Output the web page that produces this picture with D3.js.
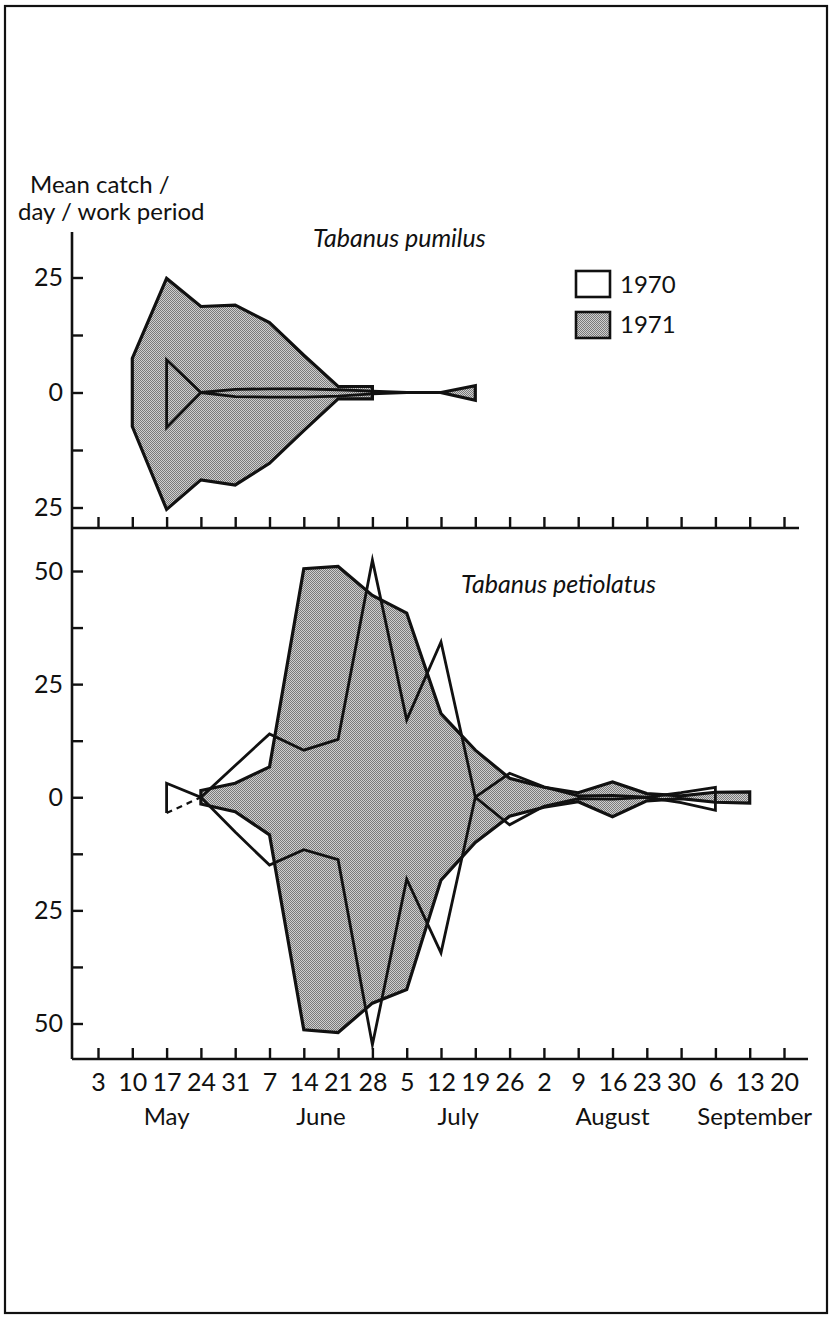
<!DOCTYPE html>
<html>
<head>
<meta charset="utf-8">
<script src="https://cdn.jsdelivr.net/npm/d3@7"></script>
<style>
  body { margin: 0; background: #fff; }
  svg { display: block; }
  text { font-family: Lato, "Open Sans", sans-serif; fill: #111; }
</style>
</head>
<body>
<svg id="chart" width="833" height="1323"></svg>
<script>
// Sampling weeks (week-ending dates), May to September
const weekMonths = ["May","May","May","May","May","June","June","June","June",
  "July","July","July","July","August","August","August","August","August",
  "September","September","September"];
const weekDays = [3,10,17,24,31,7,14,21,28,5,12,19,26,2,9,16,23,30,6,13,20];
const monthNames = ["May","June","July","August","September"];

// Mean catch per day per work period; upper and lower half-widths of each kite.
// null = no catch recorded that week.
const pumilus1970Upper = [null,null,7.1,0,0.7,0.8,0.8,0.6,0.3,0,0,null,null,null,null,null,null,null,null,null,null];
const pumilus1970Lower = [null,null,7.6,0,0.9,1.0,1.0,0.8,0.3,0,0,null,null,null,null,null,null,null,null,null,null];
const pumilus1971Upper = [null,7.4,24.8,18.7,19.0,15.2,8.1,1.3,1.3,null,0,1.5,null,null,null,null,null,null,null,null,null];
const pumilus1971Lower = [null,7.4,25.4,19.0,20.1,15.4,8.3,1.4,1.4,null,0,1.7,null,null,null,null,null,null,null,null,null];

const petiolatus1970Upper = [null,null,3.1,0,7.0,14.0,10.4,12.8,52.4,17.1,34.3,0,5.3,2.3,0.3,0.4,0,1.0,2.2,null,null];
const petiolatus1970Lower = [null,null,3.5,0,7.7,15.0,11.6,13.8,54.7,18.1,34.4,0,6.1,2.0,0.3,0.4,0,1.2,2.9,null,null];
const petiolatus1971Upper = [null,null,null,1.5,3.1,6.7,50.5,51.0,44.6,40.7,18.5,10.4,4.2,2.2,1.0,3.4,0.8,0.3,1.1,1.2,null];
const petiolatus1971Lower = [null,null,null,1.5,3.2,8.3,51.4,52.0,45.5,42.5,18.3,10.0,4.2,2.2,1.0,4.3,0.8,0.3,1.1,1.3,null];

// Lower edge segments (starting week) drawn as a dashed line
const petiolatus1970DashedLower = ["May 17"];

const yearLabels = ["1970","1971"];
const pumilusMajorTicks = [-25, 0, 25];
const pumilusMinorTicks = [-12.5, 12.5];
const petiolatusMajorTicks = [-50, -25, 0, 25, 50];
const petiolatusMinorTicks = [-37.5, -12.5, 12.5, 37.5];

const weeks = weekDays.map((d, i) => weekMonths[i] + " " + d);

const svg = d3.select("#chart");
const ink = "#111";

// Stipple fill for 1971: fine low-contrast dot screen
const defs = svg.append("defs");
const pat = defs.append("pattern")
  .attr("id", "stipple").attr("x", 0).attr("y", 0).attr("width", 2).attr("height", 2)
  .attr("patternUnits", "userSpaceOnUse");
pat.append("rect").attr("width", 2).attr("height", 2).attr("fill", "#cfcfcf");
pat.append("rect").attr("x", 0).attr("y", 0).attr("width", 1).attr("height", 1)
  .attr("fill", "#7a7a7a").attr("shape-rendering", "crispEdges");
pat.append("rect").attr("x", 1).attr("y", 1).attr("width", 1).attr("height", 1)
  .attr("fill", "#7a7a7a").attr("shape-rendering", "crispEdges");

// Page frame
svg.append("rect").attr("x", 5).attr("y", 6).attr("width", 822).attr("height", 1307)
  .attr("fill", "none").attr("stroke", ink).attr("stroke-width", 2.2);

// Scales
const x = d3.scalePoint().domain(weeks).range([98, 784]);
const yTop = d3.scaleLinear().domain([-25, 25]).range([507.5, 277.5]);
const yBot = d3.scaleLinear().domain([-50, 50]).range([1023.5, 571]);

const axisX0 = 72;
const topAxisY = 528, botAxisY = 1059;

// Kite drawing: each run of recorded weeks becomes one closed shape
function drawKite(g, y, upper, lower, opts) {
  const runs = [];
  let cur = null;
  upper.forEach((v, i) => {
    if (v !== null && lower[i] !== null) {
      if (!cur) { cur = []; runs.push(cur); }
      cur.push(i);
    } else cur = null;
  });
  const dashed = new Set((opts.dashedLower || []).map(w => weeks.indexOf(w)));
  runs.forEach(run => {
    const up = run.map(i => [x(weeks[i]), y(upper[i])]);
    const lo = run.map(i => [x(weeks[i]), y(-lower[i])]);
    const ring = up.concat(lo.slice().reverse());
    g.append("path")
      .attr("d", d3.line()(ring) + "Z")
      .attr("fill", opts.fill).attr("stroke", "none");
    // find a dashed lower segment within this run
    let k = -1;
    run.forEach((i, j) => { if (j < run.length - 1 && dashed.has(i)) k = j; });
    const outline = g.append("path")
      .attr("fill", "none").attr("stroke", ink)
      .attr("stroke-width", opts.width)
      .attr("stroke-linejoin", "miter").attr("stroke-miterlimit", 10);
    if (k < 0) {
      outline.attr("d", d3.line()(ring) + "Z");
    } else {
      // open the ring at the dashed edge (lo[k+1] -> lo[k])
      const n = up.length;
      const startIdx = 2 * n - 1 - k;       // position of lo[k] in ring
      const rot = ring.slice(startIdx).concat(ring.slice(0, startIdx));
      outline.attr("d", d3.line()(rot));
      g.append("line")
        .attr("x1", lo[k][0]).attr("y1", lo[k][1])
        .attr("x2", lo[k + 1][0]).attr("y2", lo[k + 1][1])
        .attr("stroke", ink).attr("stroke-width", opts.width * 0.8)
        .attr("stroke-dasharray", "6,5");
    }
  });
}

// ---------- Upper panel: Tabanus pumilus ----------
const gTop = svg.append("g");
drawKite(gTop, yTop, pumilus1971Upper, pumilus1971Lower, { fill: "url(#stipple)", width: 3.2 });
drawKite(gTop, yTop, pumilus1970Upper, pumilus1970Lower, { fill: "none", width: 2.8 });

// ---------- Lower panel: Tabanus petiolatus ----------
const gBot = svg.append("g");
drawKite(gBot, yBot, petiolatus1971Upper, petiolatus1971Lower, { fill: "url(#stipple)", width: 3.2 });
drawKite(gBot, yBot, petiolatus1970Upper, petiolatus1970Lower,
  { fill: "none", width: 2.8, dashedLower: petiolatus1970DashedLower });

// ---------- Axes ----------
function styleAxis(sel) {
  sel.select(".domain").remove();
  sel.selectAll(".tick line").attr("stroke", ink).attr("stroke-width", 2.4);
  sel.selectAll(".tick text").attr("fill", ink);
}

function yAxis(scale, major, minor) {
  svg.append("g").attr("transform", `translate(${axisX0},0)`)
    .call(d3.axisLeft(scale).tickValues(major).tickSizeInner(-11).tickSizeOuter(0)
      .tickPadding(9).tickFormat(d => Math.abs(d)))
    .call(styleAxis)
    .call(s => s.selectAll(".tick text").style("font-size", "25px")
      .style("font-family", "Lato, sans-serif"));
  svg.append("g").attr("transform", `translate(${axisX0},0)`)
    .call(d3.axisLeft(scale).tickValues(minor).tickSizeInner(-11).tickSizeOuter(0)
      .tickFormat(""))
    .call(styleAxis);
}
yAxis(yTop, pumilusMajorTicks, pumilusMinorTicks);
yAxis(yBot, petiolatusMajorTicks, petiolatusMinorTicks);

// vertical axis line shared by both panels
svg.append("line").attr("x1", axisX0).attr("x2", axisX0).attr("y1", 232).attr("y2", botAxisY)
  .attr("stroke", ink).attr("stroke-width", 2.6);

// upper panel time axis (ticks only)
svg.append("g").attr("transform", `translate(0,${topAxisY})`)
  .call(d3.axisBottom(x).tickSizeInner(-11).tickSizeOuter(0).tickFormat(""))
  .call(styleAxis);
svg.append("line").attr("x1", axisX0).attr("x2", 799).attr("y1", topAxisY).attr("y2", topAxisY)
  .attr("stroke", ink).attr("stroke-width", 2.6);

// lower panel time axis with day labels
svg.append("g").attr("transform", `translate(0,${botAxisY})`)
  .call(d3.axisBottom(x).tickSizeInner(-11).tickSizeOuter(0).tickPadding(14)
    .tickFormat((d, i) => weekDays[i]))
  .call(styleAxis)
  .call(s => s.selectAll(".tick text").style("font-size", "25px")
    .style("font-family", "Lato, sans-serif"));
svg.append("line").attr("x1", axisX0).attr("x2", 808).attr("y1", botAxisY).attr("y2", botAxisY)
  .attr("stroke", ink).attr("stroke-width", 2.6);

// month names centred under their weeks
monthNames.forEach(m => {
  const xs = weeks.filter((w, i) => weekMonths[i] === m).map(w => x(w));
  svg.append("text").attr("x", d3.mean(xs) + (m === "September" ? 5 : 0)).attr("y", 1125)
    .attr("text-anchor", "middle").style("font-size", "24px").text(m);
});

// ---------- Titles and labels ----------
svg.append("text").attr("x", 30).attr("y", 193).style("font-size", "24px").text("Mean catch /");
svg.append("text").attr("x", 18).attr("y", 220).style("font-size", "24px").text("day / work period");

svg.append("text").attr("x", 313).attr("y", 247).style("font-size", "25px")
  .style("font-style", "italic").text("Tabanus pumilus");
svg.append("text").attr("x", 461).attr("y", 593).style("font-size", "25px")
  .style("font-style", "italic").text("Tabanus petiolatus");

// Legend
const legend = svg.append("g");
yearLabels.forEach((yr, i) => {
  legend.append("rect").attr("x", 576).attr("y", 271 + i * 41).attr("width", 34).attr("height", 26)
    .attr("fill", i === 0 ? "#fff" : "url(#stipple)").attr("stroke", ink).attr("stroke-width", 2.6);
  legend.append("text").attr("x", 620).attr("y", 293 + i * 40).style("font-size", "24px").text(yr);
});
</script>
</body>
</html>
